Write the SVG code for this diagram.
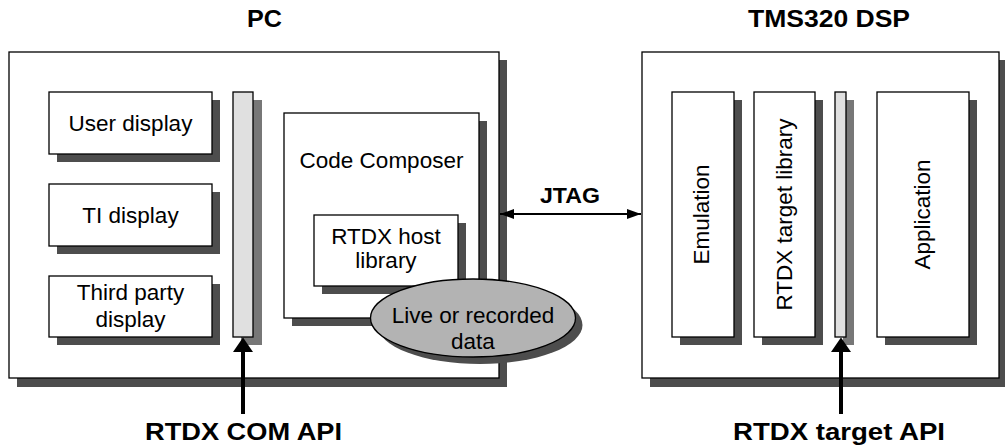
<svg xmlns="http://www.w3.org/2000/svg" width="1005" height="448" viewBox="0 0 1005 448">
<defs>
<style>
.box{fill:#fff;stroke:#000;stroke-width:1.3}
.sh{fill:#4d4d4d}
.shl{fill:#777}
.bar{fill:#e0e0e0;stroke:#000;stroke-width:1.3}
.t{font-family:"Liberation Sans",Arial,sans-serif;font-size:22.5px;fill:#000;text-anchor:middle}
.b{font-family:"Liberation Sans",Arial,sans-serif;font-weight:bold;font-size:24px;fill:#000;text-anchor:middle}
.api{stroke:#000;stroke-width:4;fill:none}
</style>
<marker id="ah" viewBox="0 0 14 10" refX="14" refY="5" markerWidth="14" markerHeight="10" markerUnits="userSpaceOnUse" orient="auto-start-reverse">
<path d="M0,0 L14,5 L0,10 z" fill="#000"/>
</marker>
</defs>
<rect width="1005" height="448" fill="#fff"/>

<g id="pc">
<rect class="sh" x="17" y="60" width="490" height="327"/>
<rect class="box" x="9" y="52" width="490" height="326"/>
<text class="b" x="264.5" y="27" textLength="35" lengthAdjust="spacingAndGlyphs">PC</text>
</g>

<g id="dsp">
<rect class="sh" x="650" y="60" width="357" height="327"/>
<rect class="box" x="642" y="52" width="357" height="326"/>
<text class="b" x="829" y="27" textLength="162" lengthAdjust="spacingAndGlyphs">TMS320 DSP</text>
</g>

<g id="user-display">
<rect class="sh" x="57" y="100" width="163" height="62"/>
<rect class="box" x="49" y="92" width="163" height="62"/>
<text class="t" x="130.5" y="131">User display</text>
</g>
<g id="ti-display">
<rect class="sh" x="57" y="192" width="163" height="62"/>
<rect class="box" x="49" y="184" width="163" height="62"/>
<text class="t" x="130.5" y="223">TI display</text>
</g>
<g id="third-party-display">
<rect class="sh" x="57" y="284" width="163" height="61"/>
<rect class="box" x="49" y="276" width="163" height="61"/>
<text class="t" x="130.5" y="300">Third party</text>
<text class="t" x="130.5" y="327">display</text>
</g>
<g id="com-bar">
<rect class="shl" x="241" y="100" width="21" height="245"/>
<rect class="bar" x="233" y="92" width="20" height="245"/>
</g>

<g id="code-composer">
<rect class="sh" x="292" y="121" width="195" height="205"/>
<rect class="box" x="284" y="113" width="195" height="205"/>
<text class="t" x="381.5" y="168">Code Composer</text>
</g>
<g id="rtdx-host-library">
<rect class="sh" x="322" y="223" width="144" height="71"/>
<rect class="box" x="314" y="215" width="144" height="71"/>
<text class="t" x="386" y="244">RTDX host</text>
<text class="t" x="386" y="268">library</text>
</g>
<g id="live-data">
<ellipse cx="480" cy="325" rx="102.5" ry="39" fill="#4d4d4d"/>
<ellipse cx="473" cy="318" rx="102.5" ry="39" fill="#b3b3b3" stroke="#000" stroke-width="1.3"/>
<text class="t" x="473" y="323">Live or recorded</text>
<text class="t" x="473" y="349">data</text>
</g>

<g id="emulation">
<rect class="sh" x="680" y="100" width="62" height="245"/>
<rect class="box" x="672" y="92" width="62" height="245"/>
<text class="t" transform="translate(709,214.5) rotate(-90)">Emulation</text>
</g>
<g id="rtdx-target-library">
<rect class="sh" x="762" y="100" width="61" height="245"/>
<rect class="box" x="754" y="92" width="61" height="245"/>
<text class="t" transform="translate(792,214.5) rotate(-90)">RTDX target library</text>
</g>
<g id="target-bar">
<rect class="shl" x="843" y="100" width="11" height="245"/>
<rect class="bar" x="835" y="92" width="11" height="245"/>
</g>
<g id="application">
<rect class="sh" x="885" y="100" width="92" height="245"/>
<rect class="box" x="877" y="92" width="92" height="245"/>
<text class="t" transform="translate(930,214.5) rotate(-90)">Application</text>
</g>

<g id="connectors">
<line x1="500" y1="214" x2="641" y2="214" stroke="#000" stroke-width="2" marker-start="url(#ah)" marker-end="url(#ah)"/>
<text class="b" x="570" y="203" style="font-size:22px" textLength="60" lengthAdjust="spacingAndGlyphs">JTAG</text>
<line class="api" x1="243" y1="414" x2="243" y2="350"/>
<path d="M233,352 L243,337.5 L253,352 z" fill="#000"/>
<line class="api" x1="841" y1="414" x2="841" y2="350"/>
<path d="M831,352 L841,337.5 L851,352 z" fill="#000"/>
<text class="b" x="243.5" y="440" textLength="197" lengthAdjust="spacingAndGlyphs">RTDX COM API</text>
<text class="b" x="839" y="440" textLength="212" lengthAdjust="spacingAndGlyphs">RTDX target API</text>
</g>
</svg>
